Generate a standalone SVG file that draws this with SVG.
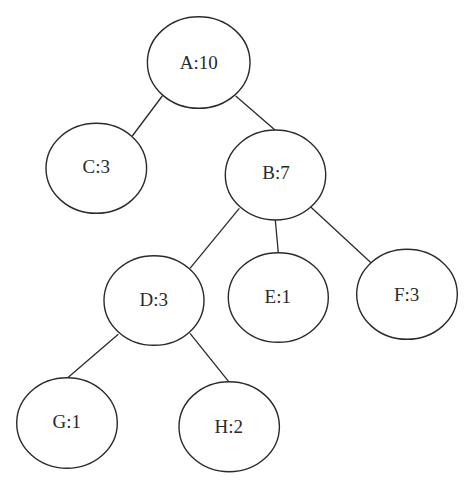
<svg xmlns="http://www.w3.org/2000/svg" width="474" height="489" viewBox="0 0 474 489">
<style>
.n ellipse{fill:#fff;stroke:#2a2a2a;stroke-width:1.4}
.n text{font-family:"Liberation Serif","DejaVu Serif",serif;font-size:19px;fill:#2a2a2a;text-anchor:middle}
#edges line{stroke:#2a2a2a;stroke-width:1.3}
</style>
<rect width="474" height="489" fill="#fff"/>
<g id="edges">
<line x1="162.3" y1="96" x2="132.3" y2="136"/>
<line x1="235.7" y1="96" x2="275" y2="130"/>
<line x1="239.3" y1="208.3" x2="190" y2="268.3"/>
<line x1="275.3" y1="220" x2="278.3" y2="252.7"/>
<line x1="311" y1="207.3" x2="371" y2="262.7"/>
<line x1="118.3" y1="334.3" x2="67.7" y2="377.7"/>
<line x1="190" y1="333.3" x2="228.7" y2="381.7"/>
</g>
<g id="nodeA" class="n"><ellipse cx="198.7" cy="62.5" rx="51.3" ry="45.8"/><text x="198.7" y="68.7">A:10</text></g>
<g id="nodeC" class="n"><ellipse cx="96.3" cy="168.3" rx="50.3" ry="45"/><text x="96.3" y="173.3">C:3</text></g>
<g id="nodeB" class="n"><ellipse cx="275.5" cy="175" rx="50.2" ry="45"/><text x="276" y="179.3">B:7</text></g>
<g id="nodeD" class="n"><ellipse cx="154" cy="300.5" rx="50" ry="44.8"/><text x="153.8" y="305.7">D:3</text></g>
<g id="nodeE" class="n"><ellipse cx="278.3" cy="297.5" rx="50" ry="44.8"/><text x="277.8" y="303.3">E:1</text></g>
<g id="nodeF" class="n"><ellipse cx="407" cy="294.3" rx="50.3" ry="45"/><text x="406.7" y="300.7">F:3</text></g>
<g id="nodeG" class="n"><ellipse cx="67" cy="423" rx="50.3" ry="45.3"/><text x="66.7" y="428.3">G:1</text></g>
<g id="nodeH" class="n"><ellipse cx="229.2" cy="426.7" rx="50.2" ry="45"/><text x="228.7" y="432.7">H:2</text></g>
</svg>
